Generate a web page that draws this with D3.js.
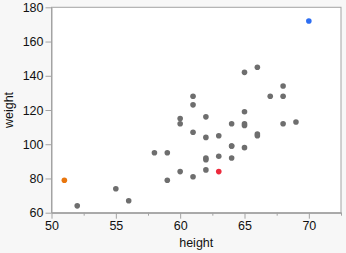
<!DOCTYPE html>
<html><head><meta charset="utf-8">
<script src="https://cdn.jsdelivr.net/npm/d3@7"></script>
<style>
html,body{margin:0;padding:0;background:#f7f7f7;}
svg{display:block;}
text{font-family:"Liberation Sans",Arial,sans-serif;}
</style></head>
<body><svg id="c" width="346" height="253"></svg>
<script>
const height = [59,61,55,66,52,60,61,51,60,61,56,65,63,58,59,61,62,65,63,62,63,64,65,64,68,64,69,62,64,67,65,66,62,66,65,60,68,62,68,70];
const weight = [95,123,74,145,64,84,128,79,112,107,67,98,105,95,79,81,91,142,84,85,93,99,119,92,112,99,113,92,112,128,111,105,104,106,112,115,128,116,134,172];
const pointColor = ["gray","gray","gray","gray","gray","gray","gray","orange","gray","gray","gray","gray","gray","gray","gray","gray","gray","gray","red","gray","gray","gray","gray","gray","gray","gray","gray","gray","gray","gray","gray","gray","gray","gray","gray","gray","gray","gray","gray","blue"];
const xTicks = [50,55,60,65,70];
const xMinor = [52.5,57.5,62.5,67.5,72.5];
const yTicks = [60,80,100,120,140,160,180];
const xTitle = "height", yTitle = "weight";

const palette = {gray:"#6e6e6e", orange:"#e8760e", red:"#ec2a3c", blue:"#2d6ef2"};
const L=51.5, R=341, T=7.3, B=212.7;
const x = d3.scaleLinear().domain([50,72.5]).range([L,R]);
const y = d3.scaleLinear().domain([60,180]).range([B,T]);
const svg = d3.select("#c");
const axisCol="#a3a3a3";

svg.append("rect").attr("x",L).attr("y",T).attr("width",R-L).attr("height",B-T)
  .attr("fill","#fff").attr("stroke",axisCol).attr("stroke-width",1);

const gx = svg.append("g").attr("transform",`translate(0,${B})`)
  .call(d3.axisBottom(x).tickValues(xTicks).tickSize(6).tickSizeOuter(0).tickPadding(2));
const gxm = svg.append("g").attr("transform",`translate(0,${B})`)
  .call(d3.axisBottom(x).tickValues(xMinor).tickSize(3).tickSizeOuter(0).tickFormat(""));
const gy = svg.append("g").attr("transform",`translate(${L},0)`)
  .call(d3.axisLeft(y).tickValues(yTicks).tickSize(6).tickSizeOuter(0).tickPadding(2));
[gx,gxm,gy].forEach(g=>{
  g.select(".domain").attr("stroke",axisCol);
  g.selectAll(".tick line").attr("stroke",axisCol);
  g.selectAll("text").attr("fill","#111").style("font-size","12.5px").style("font-family","'Liberation Sans',Arial,sans-serif");
});

svg.append("g").selectAll("circle").data(height.map((h,i)=>({h,w:weight[i],c:pointColor[i]})))
  .join("circle").attr("cx",d=>x(d.h)).attr("cy",d=>y(d.w)).attr("r",2.8)
  .attr("fill",d=>palette[d.c]);

svg.append("text").attr("x",(L+R)/2).attr("y",246.5).attr("text-anchor","middle")
  .style("font-size","12.5px").attr("fill","#111").text(xTitle);
svg.append("text").attr("transform",`translate(12.5,${(T+B)/2}) rotate(-90)`).attr("text-anchor","middle")
  .style("font-size","12.5px").attr("fill","#111").text(yTitle);
</script></body></html>
